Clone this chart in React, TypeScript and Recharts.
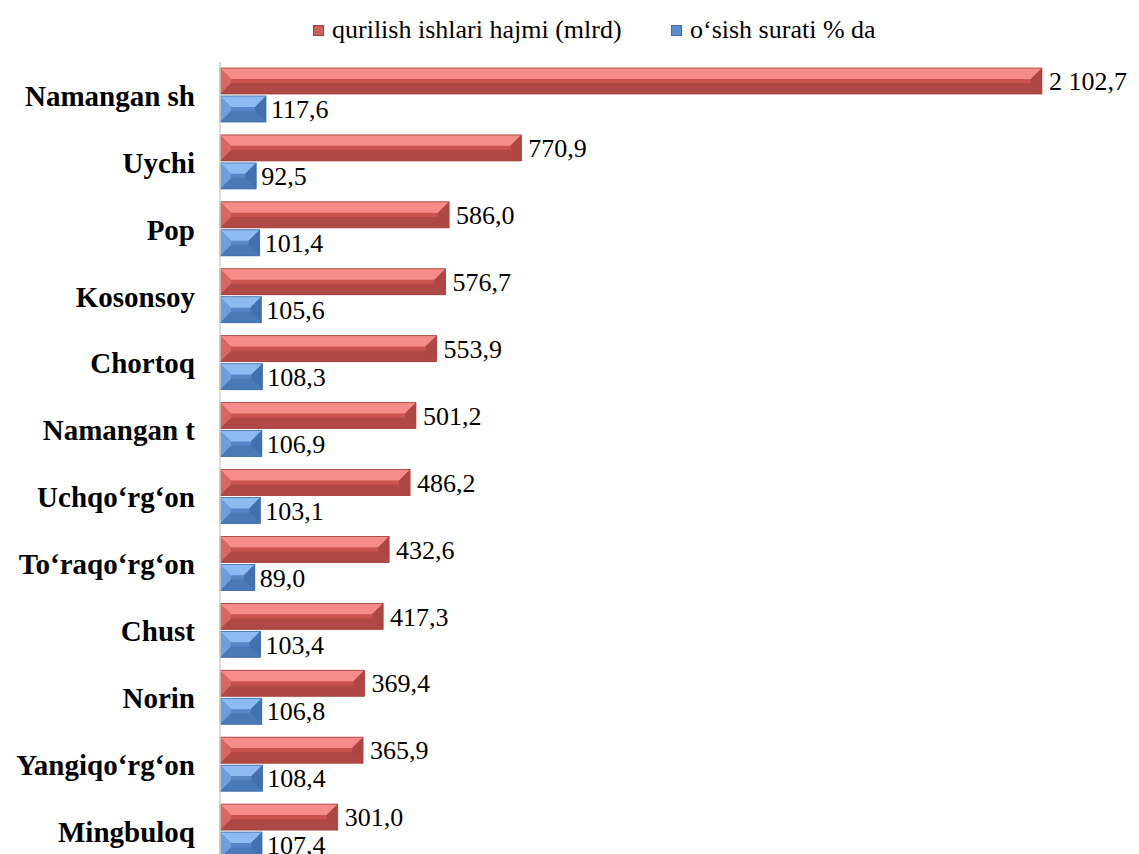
import React from "react";
import { BarChart, Bar, XAxis, YAxis, LabelList } from "recharts";

const districts = [
  "Namangan sh",
  "Uychi",
  "Pop",
  "Kosonsoy",
  "Chortoq",
  "Namangan t",
  "Uchqo‘rg‘on",
  "To‘raqo‘rg‘on",
  "Chust",
  "Norin",
  "Yangiqo‘rg‘on",
  "Mingbuloq",
];

const volume = [2102.7, 770.9, 586.0, 576.7, 553.9, 501.2, 486.2, 432.6, 417.3, 369.4, 365.9, 301.0];
const growth = [117.6, 92.5, 101.4, 105.6, 108.3, 106.9, 103.1, 89.0, 103.4, 106.8, 108.4, 107.4];

const seriesNames = ["qurilish ishlari hajmi (mlrd)", "o‘sish surati % da"];

const data = districts.map((name, i) => ({ name, volume: volume[i], growth: growth[i] }));

const SERIF = '"Liberation Serif", "Times New Roman", serif';

const palettes = {
  red: { top: "#F58C89", left: "#DA6662", mid: "#C9534F", right: "#AE4744", bottom: "#B04946", edge: "#A0403D" },
  blue: { top: "#8DBAF0", left: "#6E9FDD", mid: "#5686C7", right: "#4370AE", bottom: "#4A79B8", edge: "#3E6AA6" },
};

// Excel-like bevelled bar
function BevelBar(props: any) {
  const { x, y, width, height, tone } = props;
  if (!width || width <= 0) return null;
  const p = palettes[tone as "red" | "blue"];
  const b = Math.min(height * 0.42, width / 2);
  const x2 = x + width;
  const y2 = y + height;
  const pts = (a: number[][]) => a.map((q) => q.join(",")).join(" ");
  return (
    <g>
      <rect x={x} y={y} width={width} height={height} fill={p.mid} />
      <polygon points={pts([[x, y], [x2, y], [x2 - b, y + b], [x + b, y + b]])} fill={p.top} />
      <polygon points={pts([[x, y2], [x2, y2], [x2 - b, y2 - b], [x + b, y2 - b]])} fill={p.bottom} />
      <polygon points={pts([[x, y], [x + b, y + b], [x + b, y2 - b], [x, y2]])} fill={p.left} />
      <polygon points={pts([[x2, y], [x2 - b, y + b], [x2 - b, y2 - b], [x2, y2]])} fill={p.right} />
      <rect x={x} y={y} width={width} height={height} fill="none" stroke={p.edge} strokeWidth={0.8} />
    </g>
  );
}

function fmt(v: any) {
  const [int, dec] = Number(v).toFixed(1).split(".");
  return int.replace(/\B(?=(\d{3})+(?!\d))/g, " ") + "," + dec;
}

function LegendKey({ color, edge, label, left }: { color: string; edge: string; label: string; left: number }) {
  return (
    <div style={{ position: "absolute", left, top: 12, display: "flex", alignItems: "center", height: 36 }}>
      <span style={{ width: 9, height: 9, background: color, border: `1px solid ${edge}`, marginRight: 8 }} />
      <span style={{ fontFamily: SERIF, fontSize: 26, color: "#000", whiteSpace: "nowrap" }}>{label}</span>
    </div>
  );
}

export default function App() {
  return (
    <div style={{ position: "fixed", left: 0, top: 0, width: 1139, height: 854, overflow: "hidden", background: "#fff" }}>
      <LegendKey color="#D0605C" edge="#A0403D" label={seriesNames[0]} left={313} />
      <LegendKey color="#5B8CCF" edge="#3E6AA6" label={seriesNames[1]} left={671} />
      <BarChart
        width={1139}
        height={880}
        data={data}
        layout="vertical"
        margin={{ top: 62, right: 20, left: 0, bottom: 15 }}
        barSize={26}
        barGap={2}
      >
        <XAxis type="number" domain={[0, 2300]} hide />
        <YAxis
          type="category"
          dataKey="name"
          width={220}
          interval={0}
          tickLine={false}
          tickSize={0}
          tickMargin={25}
          axisLine={{ stroke: "#D0D0D0", strokeWidth: 1.5 }}
          tick={{ fontSize: 29, fontWeight: "bold", fill: "#000", fontFamily: SERIF }}
        />
        <Bar dataKey="volume" name={seriesNames[0]} shape={<BevelBar tone="red" />} isAnimationActive={false}>
          <LabelList
            dataKey="volume"
            position="right"
            offset={7}
            formatter={fmt}
            style={{ fontSize: 26, fontFamily: SERIF, fill: "#000" }}
          />
        </Bar>
        <Bar dataKey="growth" name={seriesNames[1]} shape={<BevelBar tone="blue" />} isAnimationActive={false}>
          <LabelList
            dataKey="growth"
            position="right"
            offset={5}
            formatter={fmt}
            style={{ fontSize: 26, fontFamily: SERIF, fill: "#000" }}
          />
        </Bar>
      </BarChart>
    </div>
  );
}
